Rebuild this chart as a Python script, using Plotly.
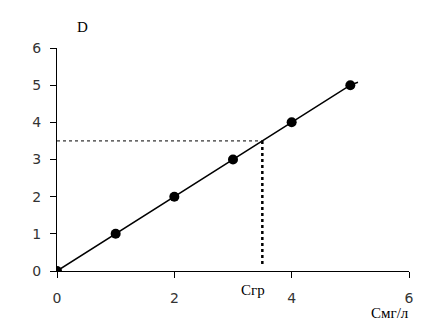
import plotly.graph_objects as go

# data
conc = [0, 1, 2, 3, 4, 5]
absorb = [0, 1, 2, 3, 4, 5]
fit_x = [0, 1, 2, 3, 3.5, 4, 4.5, 5, 5.13]
fit_y = [0, 1, 2, 3, 3.5, 4.0, 4.5, 5.0, 5.08]
c_gr = 3.5
d_gr = 3.5
x_ticks = [0, 2, 4, 6]
y_ticks = [0, 1, 2, 3, 4, 5, 6]

fig = go.Figure()
fig.add_trace(go.Scatter(x=fit_x, y=fit_y, mode="lines", line=dict(color="black", width=1.5),
                         showlegend=False, hoverinfo="skip"))
fig.add_trace(go.Scatter(x=[0, c_gr], y=[d_gr, d_gr], mode="lines",
                         line=dict(color="black", width=1, dash="dot"), showlegend=False))
fig.add_trace(go.Scatter(x=[c_gr, c_gr], y=[d_gr, 0.12], mode="lines",
                         line=dict(color="black", width=2.5, dash="dot"), showlegend=False))
fig.add_trace(go.Scatter(x=conc, y=absorb, mode="markers",
                         marker=dict(color="black", size=10), showlegend=False))

tickfont = dict(family="DejaVu Sans", size=14, color="#333")
fig.update_xaxes(range=[0, 6], tickvals=x_ticks, showline=True, linecolor="black", linewidth=1,
                 ticks="outside", ticklen=6, tickcolor="black", showgrid=False, zeroline=False,
                 tickfont=tickfont, ticklabelstandoff=8)
fig.update_yaxes(range=[0, 6], tickvals=y_ticks, showline=True, linecolor="black", linewidth=1,
                 ticks="outside", ticklen=6, tickcolor="black", showgrid=False, zeroline=False,
                 tickfont=tickfont, ticklabelstandoff=6)

serif = dict(family="Liberation Serif", size=15, color="black")
for tx, px, py in [("D", 82, 27), ("Сгр", 253, 290), ("Смг/л", 390, 313)]:
    fig.add_annotation(x=(px - 57) / 352, y=(271 - py) / 223, xref="paper", yref="paper", text=tx,
                       showarrow=False, font=serif, xanchor="center", yanchor="middle")

fig.update_layout(width=426, height=335, margin=dict(l=57, r=17, t=48, b=64),
                  plot_bgcolor="white", paper_bgcolor="white")
fig.write_html("out.html")
